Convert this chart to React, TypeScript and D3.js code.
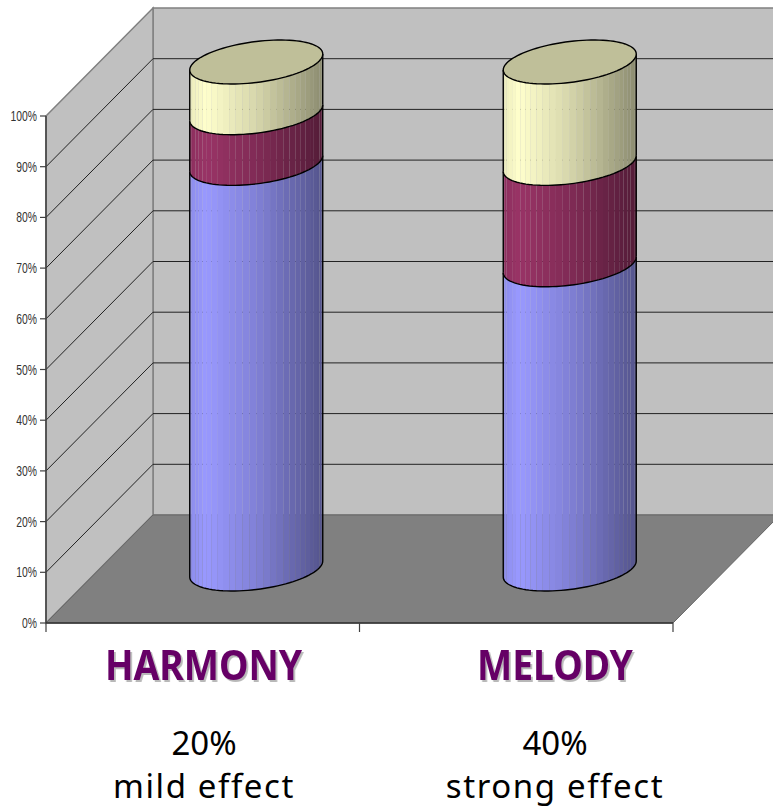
import React from "react";
import * as d3 from "d3";

const categories = ["HARMONY", "MELODY"];
const lowerValues = [80, 60];
const middleValues = [10, 20];
const upperValues = [10, 20];
const seriesColors = ["#9999FF", "#993366", "#FFFFCC"];
const tickValues = [0, 10, 20, 30, 40, 50, 60, 70, 80, 90, 100];
const captionPercent = ["20%", "40%"];
const captionEffect = ["mild effect", "strong effect"];
const headingX = [203.5, 555];
const captionX = [204, 555];

const W = 773;
const H = 808;
const depthX = 107;
const depthY = 108;
const FACETS = 30;

const x = d3.scaleBand<string>().domain(categories).range([46, 673]);
const y = d3.scaleLinear().domain([0, 100]).range([623, 116]);
const shade = d3.scaleLinear().domain([0, 0.12, 0.5, 1]).range([0.92, 1, 0.84, 0.55]);
const line = d3.line<[number, number]>();

const poly = (pts: [number, number][]) => line(pts) + "Z";
const darken = (hex: string, k: number) => {
  const c = d3.rgb(hex);
  return d3.rgb(c.r * k, c.g * k, c.b * k).formatHex();
};

// Cylinder cross-section: a sheared ellipse tilted by the oblique projection.
const RX = 66.5;
const TILT = 8;
const RY = 20.5;
const rim = (cx: number, cy: number, t: number): [number, number] => [
  cx - RX * Math.cos(t),
  cy + TILT * Math.cos(t) + RY * Math.sin(t),
];
const arc = (cx: number, cy: number, t0: number, t1: number, n = 48) =>
  d3.range(n + 1).map((i) => rim(cx, cy, t0 + ((t1 - t0) * i) / n));

function Segment({ cx, from, to, color }: { cx: number; from: number; to: number; color: string }) {
  const yLow = y(from) - depthY / 2;
  const yHigh = y(to) - depthY / 2;
  const facets = d3.range(FACETS).map((i) => {
    const t0 = (Math.PI * i) / FACETS;
    const t1 = (Math.PI * (i + 1)) / FACETS;
    const pts = [...arc(cx, yHigh, t0, t1, 4), ...arc(cx, yLow, t1, t0, 4)] as [number, number][];
    const f = (rim(cx, 0, (t0 + t1) / 2)[0] - (cx - RX)) / (2 * RX);
    return <path key={i} d={poly(pts)} fill={darken(color, shade(f))} stroke="none" />;
  });
  return (
    <g>
      {facets}
      <path d={line(arc(cx, yLow, 0, Math.PI)) ?? ""} fill="none" stroke="#000" strokeWidth={1.4} />
      <path d={line([rim(cx, yLow, 0), rim(cx, yHigh, 0)]) ?? ""} stroke="#000" strokeWidth={1.4} />
      <path d={line([rim(cx, yLow, Math.PI), rim(cx, yHigh, Math.PI)]) ?? ""} stroke="#000" strokeWidth={1.4} />
    </g>
  );
}

function Cylinder({ index }: { index: number }) {
  const cx = (x(categories[index]) as number) + x.bandwidth() / 2 + depthX / 2;
  const stops = [0, lowerValues[index], lowerValues[index] + middleValues[index], lowerValues[index] + middleValues[index] + upperValues[index]];
  const topY = y(stops[3]) - depthY / 2;
  return (
    <g>
      {seriesColors.map((c, i) => (
        <Segment key={i} cx={cx} from={stops[i]} to={stops[i + 1]} color={c} />
      ))}
      <path
        d={poly(arc(cx, topY, 0, 2 * Math.PI, 96))}
        fill={darken(seriesColors[2], 0.75)}
        stroke="#000"
        strokeWidth={1.4}
      />
    </g>
  );
}

export default function App() {
  const x0 = 46;
  const x1 = 673;
  const y0 = y(0);
  const y100 = y(100);
  const headingFont = "'Noto Sans', sans-serif";
  return (
    <svg width={W} height={H} style={{ position: "absolute", left: 0, top: 0, background: "#fff" }}>
      {/* walls and floor */}
      <path d={poly([[x0 + depthX, y100 - depthY], [x1 + depthX, y100 - depthY], [x1 + depthX, y0 - depthY], [x0 + depthX, y0 - depthY]])} fill="#C0C0C0" stroke="#808080" strokeWidth={1.5} />
      <path d={poly([[x0, y100], [x0 + depthX, y100 - depthY], [x0 + depthX, y0 - depthY], [x0, y0]])} fill="#C0C0C0" stroke="#808080" strokeWidth={1.5} />
      <path d={poly([[x0, y0], [x1, y0], [x1 + depthX, y0 - depthY], [x0 + depthX, y0 - depthY]])} fill="#808080" stroke="#666" strokeWidth={1} />

      {/* gridlines run along the side wall and across the back wall */}
      {tickValues.slice(1, -1).map((v) => (
        <path
          key={v}
          d={line([[x0, y(v)], [x0 + depthX, y(v) - depthY], [x1 + depthX, y(v) - depthY]]) ?? ""}
          fill="none"
          stroke="#222"
          strokeWidth={1}
        />
      ))}

      {categories.map((_, i) => (
        <Cylinder key={i} index={i} />
      ))}

      {/* axes */}
      <line x1={x0} x2={x0} y1={y100} y2={y0} stroke="#404040" strokeWidth={1.5} />
      <line x1={x0} x2={x1} y1={y0} y2={y0} stroke="#303030" strokeWidth={1.5} />
      {tickValues.map((v) => (
        <g key={v}>
          <line x1={x0 - 6} x2={x0} y1={y(v)} y2={y(v)} stroke="#404040" strokeWidth={1.2} />
          <text
            transform={`translate(37,${y(v) + 5}) scale(0.74,1)`}
            textAnchor="end"
            fontFamily="'Liberation Sans', Arial, sans-serif"
            fontSize={14}
            fill="#333"
          >
            {v}%
          </text>
        </g>
      ))}
      {[x0, ...categories.map((c) => (x(c) as number) + x.bandwidth())].map((tx) => (
        <line key={tx} x1={tx} x2={tx} y1={y0} y2={y0 + 9} stroke="#404040" strokeWidth={1.2} />
      ))}

      {/* category headings and captions */}
      {categories.map((c, i) => (
        <g key={c} textAnchor="middle">
          <text
            transform={`translate(${headingX[i]},680) scale(0.91,1)`}
            fontFamily={headingFont}
            fontWeight={700}
            fontSize={41}
            fill="#660066"
            style={{ filter: "drop-shadow(2px 2px 0 #B8B8B8)" }}
          >
            {c}
          </text>
          <text x={captionX[i]} y={755} fontFamily={headingFont} fontSize={33} fill="#000">{captionPercent[i]}</text>
          <text x={captionX[i]} y={798} fontFamily={headingFont} fontSize={33} letterSpacing={1.6} fill="#000">{captionEffect[i]}</text>
        </g>
      ))}
    </svg>
  );
}
